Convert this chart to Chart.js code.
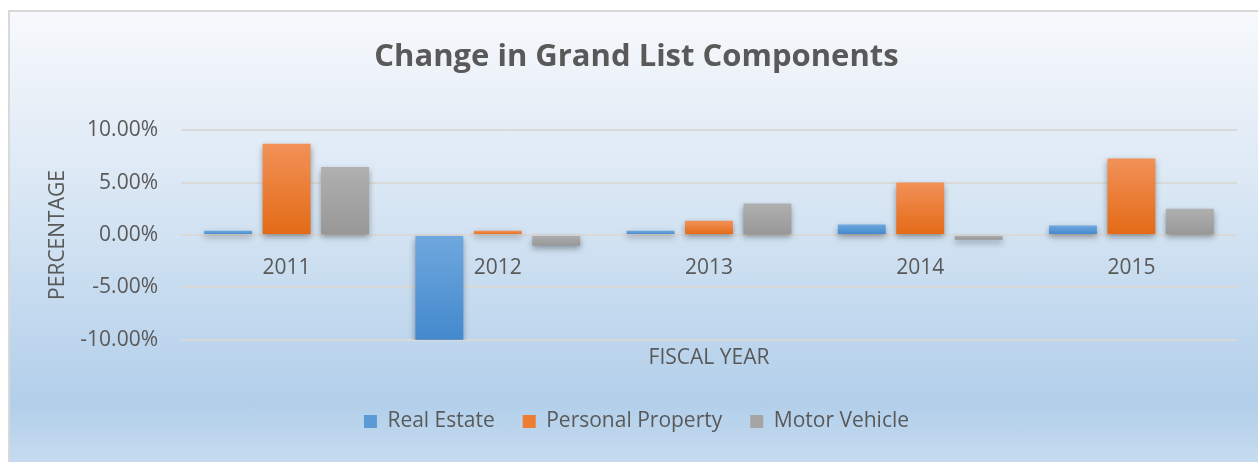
<!DOCTYPE html>
<html>
<head>
<meta charset="utf-8">
<script src="https://cdn.jsdelivr.net/npm/chart.js@4"></script>
<style>
  html, body { margin: 0; padding: 0; background: #ffffff; overflow: hidden; }
  #frame {
    position: absolute; left: 8px; top: 10px; width: 1260px; height: 460px;
    border: 2px solid #d9d9d9;
    background: linear-gradient(to bottom, #f7f9fc 0%, #dde9f5 35%, #b2cfea 85%, #c9ddf1 100%);
  }
  #wrap { position: absolute; left: 0; top: 0; width: 1258px; height: 462px; }
</style>
</head>
<body>
<div id="frame"></div>
<div id="wrap"><canvas id="chart"></canvas></div>
<script>
// 数据
const years = ["2011", "2012", "2013", "2014", "2015"];
const realEstate = [0.4, -11.0, 0.4, 1.0, 0.9];
const personalProperty = [8.7, 0.4, 1.35, 5.0, 7.3];
const motorVehicle = [6.5, -1.0, 3.0, -0.45, 2.5];
const yTicks = [-10, -5, 0, 5, 10];

const textColor = "#595959";
const fontFamily = "'Open Sans', 'Noto Sans', sans-serif";

// 每根柱子自己的上浅下深渐变
const barGradient = (light, dark) => (ctx) => {
    const chart = ctx.chart;
    if (!chart.chartArea || ctx.type !== "data") return dark;
    const y = chart.scales.y;
    const v = ctx.raw;
    const top = y.getPixelForValue(Math.max(v, 0));
    const bottom = y.getPixelForValue(Math.min(v, 0));
    const g = chart.ctx.createLinearGradient(0, top, 0, Math.max(bottom, top + 1));
    g.addColorStop(0, light);
    g.addColorStop(1, dark);
    return g;
};

// 柱子阴影
const shadowPlugin = {
    id: "barShadow",
    beforeDatasetsDraw(chart) {
        const c = chart.ctx;
        c.save();
        c.shadowColor = "rgba(0, 0, 0, 0.35)";
        c.shadowBlur = 6;
        c.shadowOffsetY = 3;
    },
    afterDatasetsDraw(chart) {
        chart.ctx.restore();
    }
};

new Chart(document.getElementById("chart").getContext("2d"), {
    type: "bar",
    data: {
        labels: years,
        datasets: [
            { label: "Real Estate", data: realEstate, backgroundColor: barGradient("#6fa8de", "#3f86cb") },
            { label: "Personal Property", data: personalProperty, backgroundColor: barGradient("#f29158", "#e36a16") },
            { label: "Motor Vehicle", data: motorVehicle, backgroundColor: barGradient("#b0b0b0", "#979797") }
        ]
    },
    options: {
        responsive: true,
        maintainAspectRatio: false,
        animation: false,
        categoryPercentage: 0.83,
        barPercentage: 0.82,
        layout: { padding: { top: 10, right: 21, bottom: 20, left: 36 } },
        plugins: {
            title: {
                display: true,
                text: "Change in Grand List Components",
                color: textColor,
                font: { family: fontFamily, size: 31, weight: "bold" },
                padding: { top: 29, bottom: 54 }
            },
            legend: {
                position: "bottom",
                labels: {
                    color: textColor,
                    font: { family: fontFamily, size: 21 },
                    boxWidth: 13,
                    boxHeight: 13,
                    padding: 28,
                    generateLabels: (chart) => chart.data.datasets.map((ds, i) => ({
                        text: ds.label,
                        fillStyle: ["#5b9bd5", "#ed7d31", "#a5a5a5"][i],
                        strokeStyle: "transparent",
                        lineWidth: 0,
                        fontColor: textColor,
                        datasetIndex: i
                    }))
                }
            },
            tooltip: { enabled: false }
        },
        scales: {
            x: {
                position: { y: 0 },
                grid: { display: false, drawTicks: false },
                border: { display: false },
                ticks: { color: textColor, font: { family: fontFamily, size: 21 }, padding: 20 }
            },
            x2: {
                type: "category",
                labels: years,
                position: "bottom",
                grid: { display: false, drawTicks: false },
                border: { display: false },
                ticks: { display: false },
                title: {
                    display: true,
                    text: "FISCAL YEAR",
                    color: textColor,
                    font: { family: fontFamily, size: 21 },
                    padding: { top: 6, bottom: 12 }
                }
            },
            y: {
                min: -10,
                max: 10,
                afterBuildTicks: (axis) => { axis.ticks = yTicks.map((v) => ({ value: v })); },
                afterFit: (axis) => { axis.width = 145; },
                grid: { color: "#d9d9d9", lineWidth: 2, drawTicks: false },
                border: { display: false },
                ticks: {
                    color: textColor,
                    font: { family: fontFamily, size: 21 },
                    padding: 23,
                    callback: (v) => v.toFixed(2) + "%"
                },
                title: {
                    display: true,
                    text: "PERCENTAGE",
                    color: textColor,
                    font: { family: fontFamily, size: 21 },
                    padding: { top: 9, bottom: 0 }
                }
            }
        }
    },
    plugins: [shadowPlugin]
});
</script>
</body>
</html>
